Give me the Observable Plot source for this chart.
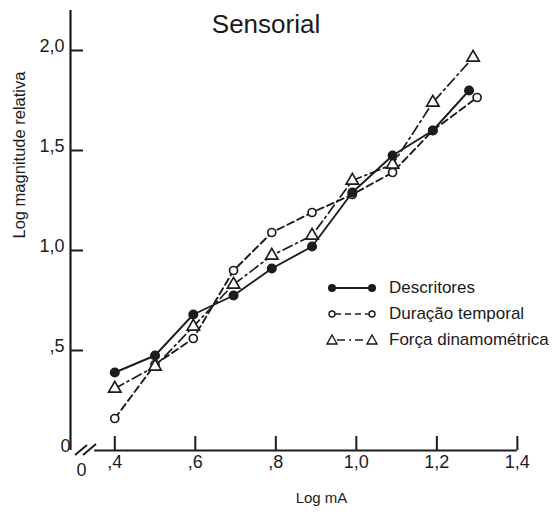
<!DOCTYPE html>
<html><head><meta charset="utf-8">
<script src="https://cdn.jsdelivr.net/npm/d3@7"></script>
<script src="https://cdn.jsdelivr.net/npm/@observablehq/plot@0.6"></script>
<style>
body{margin:0;background:#fff;}
#wrap{position:relative;width:556px;height:516px;font-family:"Liberation Sans",Arial,sans-serif;color:#1a1a1a;}
#title{position:absolute;left:0;width:532px;text-align:center;top:9px;font-size:26px;line-height:30px;}
.leg{position:absolute;left:324px;height:20px;width:240px;}
.leg svg{position:absolute;left:0;top:2px;}
.leg span{position:absolute;left:65px;top:0;font-size:17px;line-height:20px;white-space:nowrap;}
</style></head><body><div id="wrap"></div>
<script>
// Data (Log mA vs Log magnitude relativa)
const xDescritores = [0.40, 0.50, 0.595, 0.695, 0.79, 0.89, 0.99, 1.09, 1.19, 1.28];
const yDescritores = [0.39, 0.475, 0.68, 0.775, 0.91, 1.02, 1.29, 1.475, 1.60, 1.80];
const xDuracao = [0.40, 0.50, 0.595, 0.695, 0.79, 0.89, 0.99, 1.09, 1.19, 1.30];
const yDuracao = [0.16, 0.43, 0.56, 0.90, 1.09, 1.19, 1.28, 1.39, 1.60, 1.765];
const xForca = [0.40, 0.50, 0.595, 0.695, 0.79, 0.89, 0.99, 1.09, 1.19, 1.29];
const yForca = [0.31, 0.42, 0.62, 0.83, 0.975, 1.075, 1.35, 1.43, 1.74, 1.965];

const seriesNames = ["Descritores", "Duração temporal", "Força dinamométrica"];
const xTicks = [0.4, 0.6, 0.8, 1.0, 1.2, 1.4];
const xTickLabels = [",4", ",6", ",8", "1,0", "1,2", "1,4"];
const yTicks = [0.5, 1.0, 1.5, 2.0];
const yTickLabels = [",5", "1,0", "1,5", "2,0"];
const originLabel = "0";
const titleText = "Sensorial";
const xLabel = "Log mA";
const yLabel = "Log magnitude relativa";

const toRows = (xs, ys) => xs.map((x, i) => ({x, y: ys[i]}));
const desc = toRows(xDescritores, yDescritores);
const dur = toRows(xDuracao, yDuracao);
const forca = toRows(xForca, yForca);
const ink = "#1c1c1c";
const xTickRows = xTicks.map((v, i) => ({v, t: xTickLabels[i]}));
const yTickRows = yTicks.map((v, i) => ({v, t: yTickLabels[i]}));

const W = 556, H = 516, mL = 70, mR = 19, mT = 10, mB = 66;
const frameW = W - mL - mR, frameH = H - mT - mB;

const breakMark = (index, {x, y}) => {
  const g = d3.create("svg:g").attr("stroke", ink).attr("stroke-width", 2);
  const x0 = x(0.29), y0 = y(0);
  g.append("line").attr("x1", x0 + 5).attr("y1", y0 + 5).attr("x2", x0 + 17).attr("y2", y0 - 5);
  g.append("line").attr("x1", x0 + 13).attr("y1", y0 + 5).attr("x2", x0 + 26).attr("y2", y0 - 6);
  return g.node();
};

const chart = Plot.plot({
  width: W, height: H,
  marginLeft: mL, marginRight: mR, marginTop: mT, marginBottom: mB,
  x: {domain: [0.29, 1.45], axis: null},
  y: {domain: [0, 2.2], axis: null},
  style: {fontFamily: '"Liberation Sans", Arial, sans-serif', color: ink, background: "#fff"},
  marks: [
    // axes
    Plot.ruleX([0.29], {y1: 0, y2: 2.2, stroke: ink, strokeWidth: 2.2}),
    Plot.ruleY([0], {x1: 0.35, x2: 1.4, stroke: ink, strokeWidth: 2}),
    breakMark,
    Plot.tickY(yTicks, {y: d => d, stroke: ink, strokeWidth: 2, insetRight: frameW - 13}),
    Plot.tickX(xTicks, {x: d => d, stroke: ink, strokeWidth: 2, insetTop: frameH - 14}),
    Plot.text(yTickRows, {y: "v", text: "t", frameAnchor: "left", textAnchor: "end", dx: -6, dy: -4, fontSize: 18, fill: ink}),
    Plot.text([originLabel], {y: 0, frameAnchor: "left", textAnchor: "end", dx: 0, dy: -4, fontSize: 18, fill: ink}),
    Plot.text(xTickRows, {x: "v", text: "t", frameAnchor: "bottom", dy: 17, fontSize: 18, fill: ink}),
    Plot.text([originLabel], {frameAnchor: "bottom-left", dx: 6, dy: 25, fontSize: 18, fill: ink}),
    Plot.text([xLabel], {frameAnchor: "bottom", dx: 321 - (mL + frameW / 2), dy: 52, fontSize: 15, fill: ink}),
    Plot.text([yLabel], {frameAnchor: "left", dx: -51, dy: 238 - (mT + frameH / 2), rotate: -90, fontSize: 16.5, fill: ink}),
    // series
    Plot.line(desc, {x: "x", y: "y", stroke: ink, strokeWidth: 1.9}),
    Plot.line(dur, {x: "x", y: "y", stroke: ink, strokeWidth: 1.9, strokeDasharray: "7,4"}),
    Plot.line(forca, {x: "x", y: "y", stroke: ink, strokeWidth: 1.7, strokeDasharray: "10,4,2,4"}),
    Plot.dot(dur, {x: "x", y: "y", r: 4, fill: "#fff", stroke: ink, strokeWidth: 1.7}),
    Plot.dot(forca, {x: "x", y: "y", r: 4.6, symbol: "triangle", fill: "#fff", stroke: ink, strokeWidth: 1.7}),
    Plot.dot(desc, {x: "x", y: "y", r: 4.3, fill: ink, stroke: ink})
  ]
});

const wrap = document.getElementById("wrap");
wrap.appendChild(chart);

const title = document.createElement("div");
title.id = "title";
title.textContent = titleText;
wrap.appendChild(title);

// legend
const legendRows = [
  {name: seriesNames[0], top: 278, sample: `<line x1="8" y1="8" x2="48" y2="8" stroke="${ink}" stroke-width="1.8"/><circle cx="8" cy="8" r="4" fill="${ink}"/><circle cx="48" cy="8" r="4" fill="${ink}"/>`},
  {name: seriesNames[1], top: 304, sample: `<line x1="11" y1="8" x2="45" y2="8" stroke="${ink}" stroke-width="1.6" stroke-dasharray="6,4"/><circle cx="8" cy="8" r="3" fill="#fff" stroke="${ink}" stroke-width="1.4"/><circle cx="48" cy="8" r="3" fill="#fff" stroke="${ink}" stroke-width="1.4"/>`},
  {name: seriesNames[2], top: 330, sample: `<line x1="13" y1="8" x2="43" y2="8" stroke="${ink}" stroke-width="1.5" stroke-dasharray="8,4,2,4"/><path d="M8,3L13,12L3,12Z" fill="#fff" stroke="${ink}" stroke-width="1.4"/><path d="M48,3L53,12L43,12Z" fill="#fff" stroke="${ink}" stroke-width="1.4"/>`}
];
for (const r of legendRows) {
  const d = document.createElement("div");
  d.className = "leg";
  d.style.top = r.top + "px";
  d.innerHTML = `<svg width="56" height="16">${r.sample}</svg><span>${r.name}</span>`;
  wrap.appendChild(d);
}
</script>
</body></html>
